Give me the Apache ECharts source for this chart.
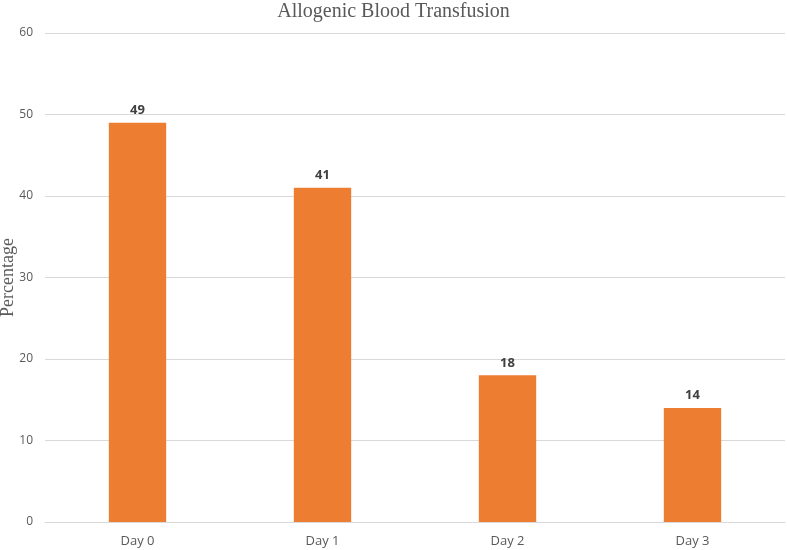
<!DOCTYPE html>
<html><head><meta charset="utf-8">
<script src="https://cdn.jsdelivr.net/npm/echarts@6/dist/echarts.min.js"></script>
<style>html,body{margin:0;padding:0;background:#fff}#c{width:787px;height:550px}</style>
</head><body><div id="c"></div>
<script>
const categories = ["Day 0", "Day 1", "Day 2", "Day 3"];
const values = [49, 41, 18, 14];
const yTicks = [0, 10, 20, 30, 40, 50, 60];

const chart = echarts.init(document.getElementById('c'), null, {renderer: 'canvas'});
chart.setOption({
  animation: false,
  backgroundColor: '#fff',
  title: {
    text: 'Allogenic Blood Transfusion',
    left: 'center', top: -3,
    textStyle: {fontFamily: 'Liberation Serif', fontSize: 20, fontWeight: 'normal', color: '#595959'}
  },
  grid: {left: 45, right: 2, top: 33, bottom: 28, containLabel: false, outerBoundsMode: 'none'},
  xAxis: {
    type: 'category', data: categories,
    axisLine: {lineStyle: {color: '#d9d9d9', width: 1}},
    axisTick: {show: false},
    axisLabel: {fontFamily: 'Open Sans', fontSize: 13, color: '#595959', margin: 13}
  },
  yAxis: {
    type: 'value', min: yTicks[0], max: yTicks[yTicks.length - 1], interval: 10,
    name: 'Percentage', nameLocation: 'middle', nameGap: 28, nameMoveOverlap: false,
    nameTextStyle: {fontFamily: 'Liberation Serif', fontSize: 18, color: '#595959'},
    axisLine: {show: false}, axisTick: {show: false},
    axisLabel: {fontFamily: 'Open Sans', fontSize: 12, color: '#595959', margin: 12},
    splitLine: {lineStyle: {color: '#d9d9d9', width: 1}}
  },
  series: [{
    type: 'bar', data: values, barWidth: '31%',
    itemStyle: {color: '#ED7D31'},
    label: {show: true, position: 'top', distance: 6, fontFamily: 'Open Sans', fontSize: 13, fontWeight: 'bold', color: '#404040'}
  }]
});
</script></body></html>
